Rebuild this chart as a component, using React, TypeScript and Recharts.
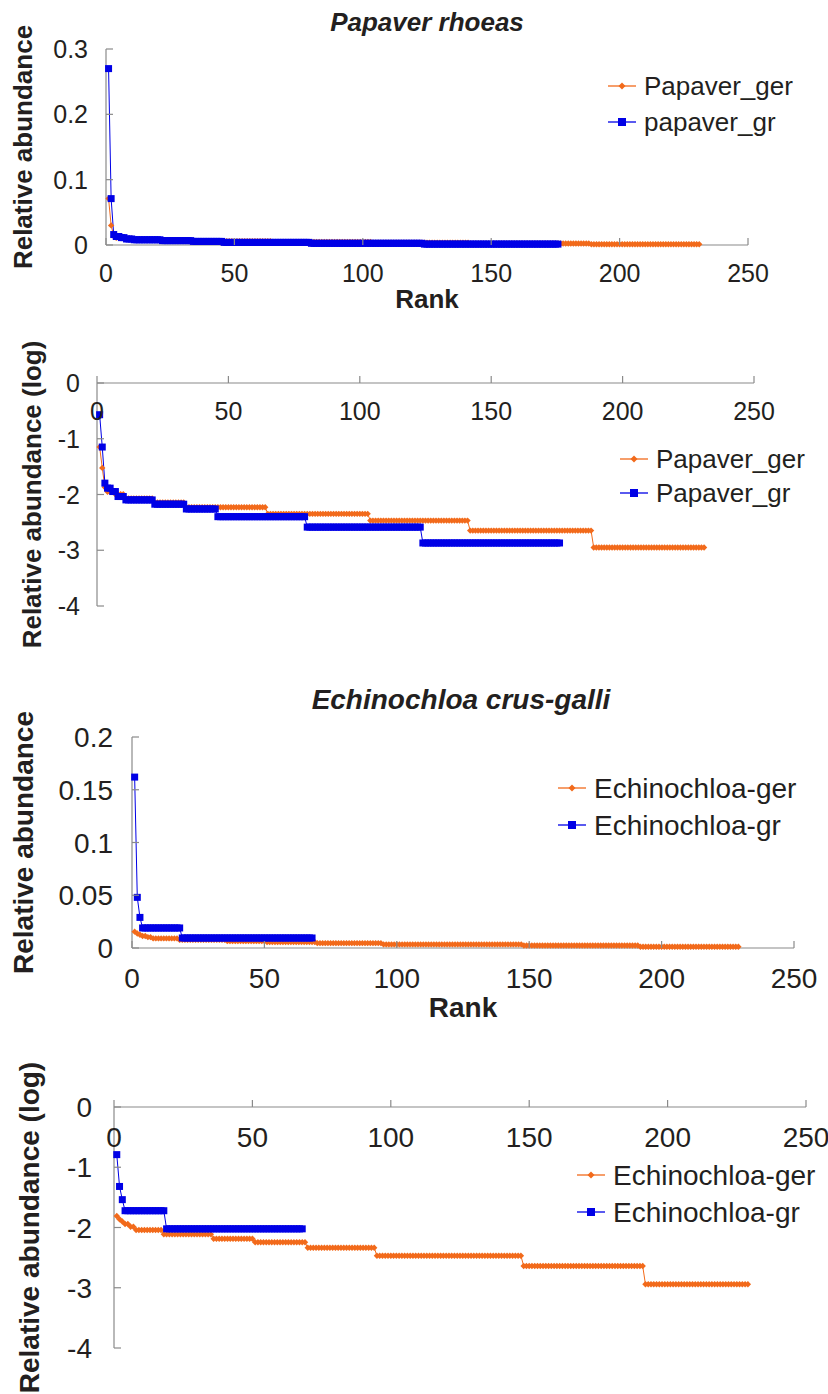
import { LineChart, Line, XAxis, YAxis } from "recharts";

const FONT = '"Liberation Sans", Arial, sans-serif';
const INK = "#231f20";
const AXIS = "#8a8a8a";
const ORANGE = "#f26a1b";
const BLUE = "#0000e6";

const rankTicks = [0, 50, 100, 150, 200, 250];
const logTicks = [-4, -3, -2, -1, 0];
const papaverTicks = [0, 0.1, 0.2, 0.3];
const echinochloaTicks = [0, 0.05, 0.1, 0.15, 0.2];

// relative abundance by rank, as [value, number of consecutive ranks sharing it]
const papaverGer: [number, number][] = [
  [0.071, 1], [0.03, 1], [0.0135, 1], [0.0112, 3], [0.0101, 4], [0.0085, 11],
  [0.0072, 12], [0.0059, 31], [0.0045, 39], [0.0034, 38], [0.00225, 47], [0.00112, 43],
];
const papaverGr: [number, number][] = [
  [0.27, 1], [0.071, 1], [0.016, 1], [0.013, 2], [0.0113, 2], [0.0092, 3],
  [0.008, 11], [0.0067, 12], [0.0055, 12], [0.004, 34], [0.0026, 44], [0.00135, 53],
];
const echinochloaGer: [number, number][] = [
  [0.0155, 1], [0.0137, 1], [0.0126, 1], [0.0114, 2], [0.0103, 2], [0.0091, 10],
  [0.0077, 18], [0.0065, 15], [0.0057, 19], [0.0046, 25], [0.0034, 53],
  [0.0023, 44], [0.00114, 38],
];
const echinochloaGr: [number, number][] = [
  [0.162, 1], [0.048, 1], [0.029, 1], [0.019, 15], [0.0095, 50],
];

function expand(runs: [number, number][]) {
  const out: number[] = [];
  runs.forEach(([v, n]) => {
    for (let i = 0; i < n; i++) out.push(v);
  });
  return out;
}

function buildRows(ger: [number, number][], gr: [number, number][], log: boolean) {
  const a = expand(ger);
  const b = expand(gr);
  const f = (v?: number) => (v === undefined ? null : log ? Math.log10(v) : v);
  const rows = [];
  for (let i = 0; i < Math.max(a.length, b.length); i++) {
    rows.push({ rank: i + 1, ger: f(a[i]), gr: f(b[i]) });
  }
  return rows;
}

const diamondDot = (props: any) => {
  const { cx, cy, index } = props;
  if (cx == null || cy == null) return <g key={`o${index}`} />;
  return (
    <path
      key={`o${index}`}
      d={`M${cx},${cy - 3.2}L${cx + 3.2},${cy}L${cx},${cy + 3.2}L${cx - 3.2},${cy}Z`}
      fill={ORANGE}
    />
  );
};

const squareDot = (props: any) => {
  const { cx, cy, index } = props;
  if (cx == null || cy == null) return <g key={`b${index}`} />;
  return <rect key={`b${index}`} x={cx - 3.5} y={cy - 3.5} width={7} height={7} fill={BLUE} />;
};

function leftTick(gap: number, size: number) {
  return (props: any) => {
    const { x, y, payload } = props;
    return (
      <g>
        <line x1={x} x2={x + 7} y1={y} y2={y} stroke={AXIS} strokeWidth={1.2} />
        <text x={x - gap} y={y + size * 0.36} textAnchor="end" fontSize={size} fontFamily={FONT} fill={INK}>
          {payload.value}
        </text>
      </g>
    );
  };
}

// tick marks point into the plot for the linear charts, out (up) for the log charts;
// labels always sit below the axis line
function rankTick(up: number, below: number, size: number) {
  return (props: any) => {
    const { x, y, payload } = props;
    return (
      <g>
        <line x1={x} x2={x} y1={y} y2={y - up} stroke={AXIS} strokeWidth={1.2} />
        <text x={x} y={y + below} textAnchor="middle" fontSize={size} fontFamily={FONT} fill={INK}>
          {payload.value}
        </text>
      </g>
    );
  };
}

type Panel = {
  top: number;
  height: number;
  plotLeft: number;
  plotRight: number;
  plotTop: number;
  plotBottom: number;
  log: boolean;
  ger: [number, number][];
  gr: [number, number][];
  yDomain: [number, number];
  yTicks: number[];
  tickSize: number;
  tickGap: number;
  labelBelow: number;
  textSize: number;
  title?: string;
  titleX?: number;
  titleY?: number;
  yTitle: string;
  yTitleX: number;
  showRank: boolean;
  rankY?: number;
  legend: string[];
  legendX: number;
  legendY: number[];
};

const WIDTH = 828;

function RankPanel(p: Panel) {
  const rows = buildRows(p.ger, p.gr, p.log);
  const xAxisHeight = p.log ? 30 : p.height - p.plotBottom;
  const margin = {
    top: p.log ? p.plotTop - xAxisHeight : p.plotTop,
    right: WIDTH - p.plotRight,
    bottom: p.log ? p.height - p.plotBottom : 0,
    left: 0,
  };
  const midX = (p.plotLeft + p.plotRight) / 2;
  const midY = (p.plotTop + p.plotBottom) / 2;
  const colors = [ORANGE, BLUE];

  return (
    <div style={{ position: "absolute", left: 0, top: p.top, width: WIDTH, height: p.height }}>
      <LineChart width={WIDTH} height={p.height} data={rows} margin={margin}>
        <XAxis
          dataKey="rank"
          type="number"
          domain={[0, 250]}
          ticks={rankTicks}
          interval={0}
          orientation={p.log ? "top" : "bottom"}
          height={xAxisHeight}
          axisLine={{ stroke: AXIS, strokeWidth: 1.2 }}
          tickLine={false}
          tickSize={0}
          tickMargin={0}
          tick={rankTick(7, p.labelBelow, p.tickSize)}
        />
        <YAxis
          type="number"
          domain={p.yDomain}
          ticks={p.yTicks}
          interval={0}
          width={p.plotLeft}
          axisLine={{ stroke: AXIS, strokeWidth: 1.2 }}
          tickLine={false}
          tickSize={0}
          tickMargin={0}
          tick={leftTick(p.tickGap, p.tickSize)}
        />
        <Line
          dataKey="ger"
          stroke={ORANGE}
          strokeWidth={1}
          dot={diamondDot}
          activeDot={false}
          isAnimationActive={false}
        />
        <Line
          dataKey="gr"
          stroke={BLUE}
          strokeWidth={1}
          dot={squareDot}
          activeDot={false}
          isAnimationActive={false}
        />
      </LineChart>
      <svg
        width={WIDTH}
        height={p.height}
        style={{ position: "absolute", left: 0, top: 0, pointerEvents: "none" }}
        fontFamily={FONT}
      >
        {p.title && (
          <text x={p.titleX} y={p.titleY} textAnchor="middle" fontSize={p.textSize} fontWeight="bold" fontStyle="italic" fill={INK}>
            {p.title}
          </text>
        )}
        <text
          x={p.yTitleX}
          y={midY}
          transform={`rotate(-90 ${p.yTitleX} ${midY})`}
          textAnchor="middle"
          fontSize={p.textSize}
          fontWeight="bold"
          fill={INK}
        >
          {p.yTitle}
        </text>
        {p.showRank && (
          <text x={midX} y={p.rankY} textAnchor="middle" fontSize={p.textSize} fontWeight="bold" fill={INK}>
            Rank
          </text>
        )}
        {p.legend.map((name, i) => {
          const cy = p.legendY[i];
          const cx = p.legendX + 14;
          return (
            <g key={name}>
              <line x1={p.legendX} x2={p.legendX + 28} y1={cy} y2={cy} stroke={colors[i]} strokeWidth={1.3} />
              {i === 0 ? (
                <path d={`M${cx},${cy - 3.5}L${cx + 3.5},${cy}L${cx},${cy + 3.5}L${cx - 3.5},${cy}Z`} fill={ORANGE} />
              ) : (
                <rect x={cx - 4} y={cy - 4} width={8} height={8} fill={BLUE} />
              )}
              <text x={p.legendX + 36} y={cy + p.textSize * 0.36} fontSize={p.textSize} fill={INK}>
                {name}
              </text>
            </g>
          );
        })}
      </svg>
    </div>
  );
}

export default function App() {
  return (
    <div style={{ position: "absolute", left: 0, top: 0, width: WIDTH, height: 1394, background: "#fff" }}>
      <RankPanel
        top={0}
        height={320}
        plotLeft={106}
        plotRight={748}
        plotTop={49}
        plotBottom={245}
        log={false}
        ger={papaverGer}
        gr={papaverGr}
        yDomain={[0, 0.3]}
        yTicks={papaverTicks}
        tickSize={25}
        tickGap={18}
        labelBelow={37}
        textSize={26}
        title="Papaver rhoeas"
        titleX={427}
        titleY={31}
        yTitle="Relative abundance"
        yTitleX={32}
        showRank
        rankY={308}
        legend={["Papaver_ger", "papaver_gr"]}
        legendX={608}
        legendY={[86, 122]}
      />
      <RankPanel
        top={320}
        height={330}
        plotLeft={97}
        plotRight={754}
        plotTop={63}
        plotBottom={286}
        log
        ger={papaverGer}
        gr={papaverGr}
        yDomain={[-4, 0]}
        yTicks={logTicks}
        tickSize={25}
        tickGap={17}
        labelBelow={37}
        textSize={26}
        yTitle="Relative abundance (log)"
        yTitleX={41}
        showRank={false}
        legend={["Papaver_ger", "Papaver_gr"]}
        legendX={620}
        legendY={[139, 173]}
      />
      <RankPanel
        top={650}
        height={380}
        plotLeft={132}
        plotRight={794}
        plotTop={87}
        plotBottom={298}
        log={false}
        ger={echinochloaGer}
        gr={echinochloaGr}
        yDomain={[0, 0.2]}
        yTicks={echinochloaTicks}
        tickSize={28}
        tickGap={19}
        labelBelow={40}
        textSize={28}
        title="Echinochloa crus-galli"
        titleX={461}
        titleY={59}
        yTitle="Relative abundance"
        yTitleX={33}
        showRank
        rankY={367}
        legend={["Echinochloa-ger", "Echinochloa-gr"]}
        legendX={558}
        legendY={[138, 175]}
      />
      <RankPanel
        top={1030}
        height={364}
        plotLeft={114}
        plotRight={806}
        plotTop={77}
        plotBottom={318}
        log
        ger={echinochloaGer}
        gr={echinochloaGr}
        yDomain={[-4, 0]}
        yTicks={logTicks}
        tickSize={28}
        tickGap={22}
        labelBelow={40}
        textSize={28}
        yTitle="Relative abundance (log)"
        yTitleX={39}
        showRank={false}
        legend={["Echinochloa-ger", "Echinochloa-gr"]}
        legendX={577}
        legendY={[145, 182]}
      />
    </div>
  );
}
